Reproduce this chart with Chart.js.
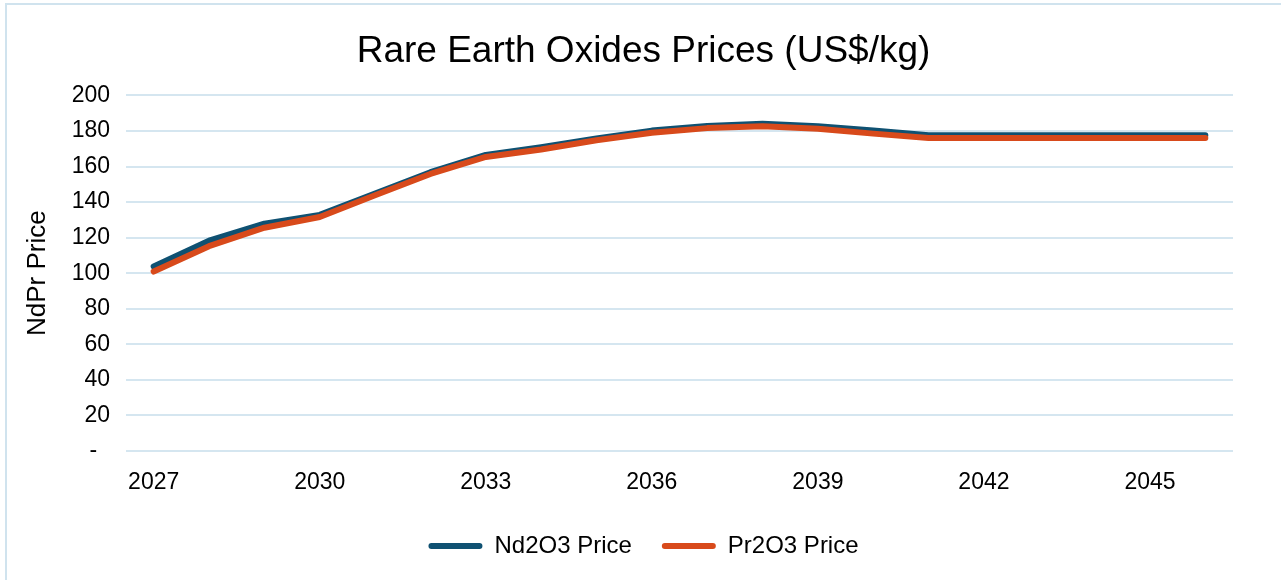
<!DOCTYPE html>
<html>
<head>
<meta charset="utf-8">
<script src="https://cdn.jsdelivr.net/npm/chart.js@4"></script>
<style>
  html, body { margin: 0; padding: 0; background: #fff; }
  #wrap { position: relative; width: 1281px; height: 580px; }
  #frame {
    position: absolute; left: 5px; top: 3px; width: 1274px; height: 580px;
    border-left: 2px solid #d0e3ee; border-top: 2px solid #d0e3ee;
    border-right: 1px solid #eef4f8; pointer-events: none;
  }
</style>
</head>
<body>
<div id="wrap">
  <canvas id="priceChart" width="1281" height="580"></canvas>
  <div id="frame"></div>
</div>
<script>
const years = ['2027', '2028', '2029', '2030', '2031', '2032', '2033', '2034', '2035', '2036',
               '2037', '2038', '2039', '2040', '2041', '2042', '2043', '2044', '2045', '2046'];
const nd2o3Price = [103.8, 118.3, 127.9, 132.8, 144.8, 156.8, 166.5, 170.8, 175.8, 180.2,
                    182.8, 184.0, 182.6, 180.2, 177.6, 177.6, 177.6, 177.6, 177.6, 177.6];
const pr2o3Price = [100.9, 115.2, 125.6, 131.6, 143.8, 155.8, 165.4, 169.6, 174.8, 179.0,
                    181.6, 182.6, 181.3, 178.5, 176.0, 176.0, 176.0, 176.0, 176.0, 176.0];
const yTicks = [0, 20, 40, 60, 80, 100, 120, 140, 160, 180, 200];

const font = 'Liberation Sans, Arial, sans-serif';
const ctx = document.getElementById('priceChart').getContext('2d');

window.priceChart = new Chart(ctx, {
    type: 'line',
    data: {
        labels: years,
        datasets: [{
            label: 'Nd2O3 Price',
            data: nd2o3Price,
            borderColor: '#0F5172',
            backgroundColor: '#0F5172',
            borderWidth: 6,
            order: 1
        }, {
            label: 'Pr2O3 Price',
            data: pr2o3Price,
            borderColor: '#D84A1B',
            backgroundColor: '#D84A1B',
            borderWidth: 6,
            order: 0
        }]
    },
    options: {
        responsive: false,
        animation: false,
        layout: { padding: { left: 10, right: 4, top: 0, bottom: 12 } },
        elements: {
            point: { radius: 0, hoverRadius: 0 },
            line: { tension: 0, borderCapStyle: 'round', borderJoinStyle: 'round' }
        },
        scales: {
            x: {
                offset: true,
                grid: { display: false },
                border: { display: false },
                ticks: {
                    autoSkip: false,
                    maxRotation: 0,
                    padding: 10,
                    color: '#000',
                    font: { family: font, size: 23 },
                    callback: (v, i) => i % 3 === 0 ? years[i] : ''
                },
                afterFit: (scale) => { scale.height = 53; }
            },
            y: {
                min: 0,
                max: 200,
                afterBuildTicks: (scale) => { scale.ticks = yTicks.map(v => ({ value: v })); },
                grid: { color: '#d5e6f0', lineWidth: 2, drawTicks: false },
                border: { display: false },
                ticks: {
                    padding: 16,
                    color: '#000',
                    font: { family: font, size: 23 },
                    callback: (v) => v === 0 ? '-  ' : v
                },
                title: {
                    display: true,
                    text: 'NdPr Price',
                    color: '#000',
                    font: { family: font, size: 26 },
                    padding: { top: 12, bottom: 0 }
                },
                afterFit: (scale) => { scale.width = 116; }
            },
            // empty right-hand axis, only keeps the plot's right margin
            yRight: {
                position: 'right',
                grid: { display: false },
                border: { display: false },
                ticks: { display: false },
                afterFit: (scale) => { scale.width = 44; }
            }
        },
        plugins: {
            title: {
                display: true,
                text: 'Rare Earth Oxides Prices (US$/kg)',
                color: '#000',
                font: { family: font, size: 37, weight: 'normal' },
                padding: { top: 30, bottom: 21 }
            },
            legend: {
                position: 'bottom',
                labels: {
                    color: '#000',
                    font: { family: font, size: 24 },
                    boxWidth: 54,
                    boxHeight: 6,
                    padding: 30,
                    useBorderRadius: true,
                    borderRadius: 3,
                    generateLabels: (chart) => chart.data.datasets.map((ds, i) => ({
                        text: ds.label,
                        fillStyle: ds.borderColor,
                        strokeStyle: ds.borderColor,
                        lineWidth: 0,
                        fontColor: '#000',
                        hidden: !chart.isDatasetVisible(i),
                        datasetIndex: i,
                        borderRadius: 3
                    }))
                }
            },
            tooltip: { enabled: false }
        }
    }
});
</script>
</body>
</html>
